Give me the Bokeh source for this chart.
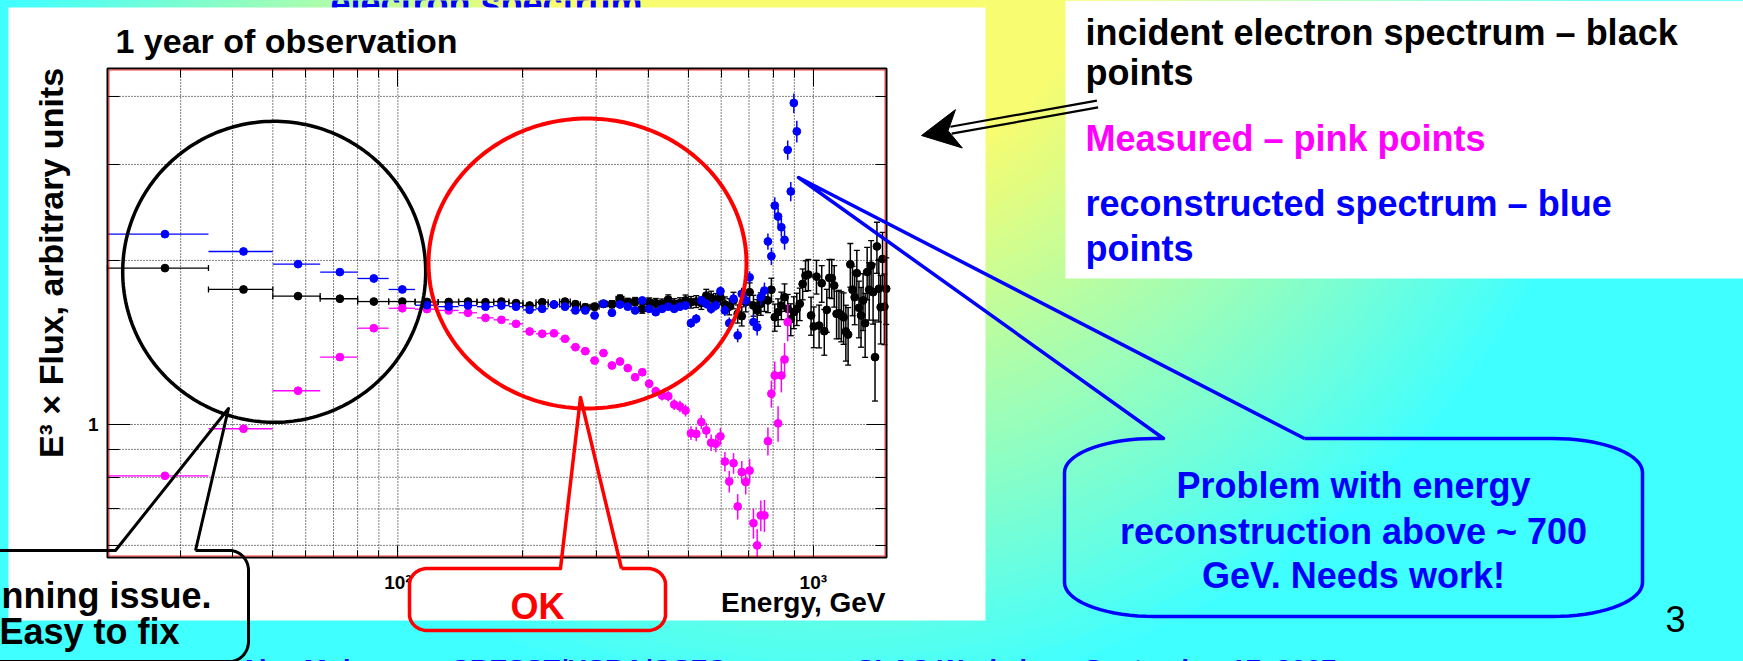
import numpy as np
from bokeh.plotting import figure
from bokeh.models import (Range1d, LogScale, LogAxis, FixedTicker,
                          CustomJSTickFormatter, Label, ColumnDataSource)
from bokeh.core.properties import value
from bokeh.embed import file_html
from bokeh.resources import INLINE

# ------------------------------------------------------------------ data
# bin centres (GeV), 15 GeV wide bins
energy = [27.5, 42.5, 57.5, 72.5, 87.5, 102.5, 117.5, 132.5, 147.5, 162.5,
          177.5, 192.5, 207.5, 222.5, 237.5, 252.5, 267.5, 282.5, 297.5, 312.5,
          327.5, 342.5, 357.5, 372.5, 387.5, 402.5, 417.5, 432.5, 447.5, 462.5,
          477.5, 492.5, 507.5, 522.5, 537.5, 552.5, 567.5, 582.5, 597.5, 612.5,
          627.5, 642.5, 657.5, 672.5, 687.5, 702.5, 717.5, 732.5, 747.5, 762.5,
          777.5, 792.5, 807.5, 822.5, 837.5, 852.5, 867.5, 882.5, 897.5, 912.5,
          927.5, 942.5, 957.5, 972.5, 987.5, 1002.5, 1017.5, 1032.5, 1047.5, 1062.5,
          1077.5, 1092.5, 1107.5, 1122.5, 1137.5, 1152.5, 1167.5, 1182.5, 1197.5, 1212.5,
          1227.5, 1242.5, 1257.5, 1272.5, 1287.5, 1302.5, 1317.5, 1332.5, 1347.5, 1362.5,
          1377.5, 1392.5, 1407.5, 1422.5, 1437.5, 1452.5, 1467.5, 1482.5, 1497.5]
bin_half_width = 7.5

# incident spectrum (black)
incident = [1.936, 1.769, 1.720, 1.701, 1.681, 1.681, 1.678, 1.678, 1.681, 1.676,
            1.681, 1.670, 1.653, 1.676, 1.660, 1.681, 1.662, 1.641, 1.645, 1.665,
            1.662, 1.701, 1.676, 1.681, 1.630, 1.676, 1.670, 1.665, 1.694, 1.665,
            1.670, 1.689, 1.676, 1.681, 1.670, 1.724, 1.708, 1.689, 1.712, 1.660,
            1.645, 1.689, 1.596, 1.580, 1.676, 1.749, 1.653, 1.619, 1.665, 1.694,
            1.689, 1.767, 1.573, 1.607, 1.653, 1.712, 1.630, 1.560, 1.607, 1.630,
            1.665, 1.811, 1.876, 1.884, 1.585, 1.513, 1.868, 1.519, 1.816, 1.483,
            1.623, 1.858, 1.855, 1.799, 1.596, 1.600, 1.585, 1.573, 1.481, 1.462,
            1.967, 1.767, 1.712, 1.895, 1.637, 1.585, 1.689, 1.534, 1.904, 1.767,
            1.957, 1.749, 1.329, 2.122, 1.774, 1.641, 2.012, 1.645, 1.774]
incident_err = [0.008, 0.008, 0.009, 0.010, 0.010, 0.011, 0.012, 0.013, 0.013, 0.014,
                0.015, 0.016, 0.017, 0.018, 0.019, 0.020, 0.021, 0.022, 0.023, 0.024,
                0.025, 0.027, 0.028, 0.029, 0.030, 0.031, 0.033, 0.034, 0.035, 0.036,
                0.038, 0.039, 0.041, 0.042, 0.044, 0.046, 0.048, 0.050, 0.052, 0.054,
                0.056, 0.059, 0.061, 0.064, 0.067, 0.070, 0.073, 0.076, 0.079, 0.082,
                0.085, 0.088, 0.090, 0.093, 0.096, 0.099, 0.102, 0.105, 0.108, 0.111,
                0.114, 0.118, 0.121, 0.124, 0.127, 0.130, 0.133, 0.137, 0.140, 0.143,
                0.147, 0.150, 0.153, 0.157, 0.160, 0.163, 0.167, 0.170, 0.174, 0.177,
                0.181, 0.184, 0.188, 0.191, 0.195, 0.199, 0.202, 0.206, 0.210, 0.213,
                0.217, 0.221, 0.225, 0.228, 0.232, 0.236, 0.240, 0.244, 0.248]

# measured spectrum (pink), first 57 bins
measured = [0.805, 0.982, 1.153, 1.329, 1.502, 1.634, 1.628, 1.619, 1.603, 1.569,
            1.556, 1.530, 1.481, 1.467, 1.470, 1.436, 1.386, 1.363, 1.310, 1.352,
            1.283, 1.305, 1.269, 1.221, 1.247, 1.188, 1.151, 1.130, 1.127, 1.088,
            1.079, 1.061, 0.964, 0.961, 1.010, 0.975, 0.926, 0.922, 0.951, 0.855,
            0.786, 0.849, 0.707, 0.818, 0.784, 0.823, 0.659, 0.600, 0.681, 0.681,
            0.932, 1.139, 1.230, 1.005, 1.230, 1.316, 1.541]
measured_err = [0.006, 0.007, 0.008, 0.009, 0.010, 0.010, 0.011, 0.011, 0.012, 0.012,
                0.013, 0.013, 0.014, 0.014, 0.015, 0.015, 0.016, 0.016, 0.017, 0.017,
                0.018, 0.019, 0.019, 0.020, 0.021, 0.021, 0.022, 0.023, 0.024, 0.025,
                0.026, 0.027, 0.028, 0.029, 0.030, 0.031, 0.032, 0.033, 0.034, 0.035,
                0.036, 0.037, 0.038, 0.039, 0.040, 0.041, 0.042, 0.043, 0.044, 0.046,
                0.055, 0.065, 0.075, 0.075, 0.085, 0.095, 0.120]

# reconstructed spectrum (blue), first 60 bins
reconstructed = [2.235, 2.077, 1.969, 1.904, 1.853, 1.769, 1.655, 1.645, 1.653, 1.645,
                 1.653, 1.645, 1.623, 1.630, 1.660, 1.645, 1.619, 1.619, 1.585, 1.665,
                 1.603, 1.660, 1.645, 1.619, 1.689, 1.630, 1.607, 1.630, 1.645, 1.630,
                 1.645, 1.653, 1.534, 1.563, 1.689, 1.665, 1.630, 1.653, 1.756, 1.619,
                 1.534, 1.701, 1.457, 1.737, 1.689, 1.862, 1.541, 1.508, 1.712, 1.761,
                 2.167, 2.036, 2.522, 2.408, 2.301, 2.182, 3.190, 2.677, 3.890, 3.450]
reconstructed_err = [0.007, 0.008, 0.009, 0.010, 0.010, 0.011, 0.011, 0.012, 0.012, 0.013,
                     0.013, 0.014, 0.014, 0.015, 0.015, 0.016, 0.016, 0.017, 0.017, 0.018,
                     0.019, 0.019, 0.020, 0.021, 0.022, 0.023, 0.024, 0.025, 0.026, 0.027,
                     0.028, 0.029, 0.030, 0.031, 0.032, 0.033, 0.034, 0.035, 0.036, 0.037,
                     0.038, 0.040, 0.042, 0.044, 0.046, 0.048, 0.050, 0.052, 0.055, 0.060,
                     0.075, 0.075, 0.090, 0.090, 0.090, 0.090, 0.130, 0.110, 0.160, 0.160]

x_ticks_major = [100, 1000]
x_ticks_minor = [30, 40, 50, 60, 70, 80, 90, 200, 300, 400, 500, 600, 700, 800, 900]
y_ticks_major = [1]
y_ticks_minor = [0.6, 0.7, 0.8, 0.9, 2, 3, 4]
x_lim = (20, 1500)
y_lim = (0.57, 4.5)

# ------------------------------------------------------------------ page layout
W, H = 1743, 661
FONT = "Liberation Sans"
BOX_L, BOX_R, BOX_T, BOX_B = 107, 886, 68, 557   # chart frame in page pixels
BLUE, PINK, RED = "#0000FF", "#FF00FF", "#FF0000"
YEL, CYA = (248, 252, 112), (64, 255, 255)

p = figure(width=W, height=H, x_range=Range1d(0, W), y_range=Range1d(H, 0),
           x_axis_type=None, y_axis_type=None, toolbar_location=None,
           output_backend="svg", min_border=0)
p.outline_line_color = None
p.background_fill_color = "#40FFFF"
p.border_fill_color = "#40FFFF"

# log scales for the chart, mapped onto the chart frame
lx0, lx1 = np.log10(x_lim)
dec_x = (BOX_R - BOX_L) / (lx1 - lx0)
ly0, ly1 = np.log10(y_lim)
dec_y = (BOX_B - BOX_T) / (ly1 - ly0)
p.extra_x_ranges = {"ex": Range1d(10 ** (lx0 - BOX_L / dec_x), 10 ** (lx1 + (W - BOX_R) / dec_x))}
p.extra_x_scales = {"ex": LogScale()}
p.extra_y_ranges = {"ey": Range1d(10 ** (ly0 - (H - BOX_B) / dec_y), 10 ** (ly1 + BOX_T / dec_y))}
p.extra_y_scales = {"ey": LogScale()}
C = dict(x_range_name="ex", y_range_name="ey")

# ---- background gradient (concentric circles)
radii = np.arange(1260, 230, -10)
tt = np.clip((radii - 300) / 520.0, 0, 1)
cols = ["#%02x%02x%02x" % tuple(int(round(a * (1 - t) + b * t)) for a, b in zip(YEL, CYA)) for t in tt]
p.circle(x=[820] * len(radii), y=[-110] * len(radii), radius=list(radii),
         fill_color=cols, line_color=None, level="image")

# slide title, mostly hidden
p.text(x=[330], y=[3], text=["electron spectrum"], text_font=value(FONT),
       text_font_size="36px", text_font_style="bold", text_color=BLUE,
       text_baseline="alphabetic", level="image")

# white panels
p.quad(left=8, right=985, top=7, bottom=620, fill_color="white", line_color=None, level="image")
p.quad(left=1065, right=W, top=0, bottom=278, fill_color="white", line_color=None, level="image")

# ---- grid
gx = x_ticks_minor + x_ticks_major
p.segment(x0=gx, y0=[y_lim[0]] * len(gx), x1=gx, y1=[y_lim[1]] * len(gx),
          line_color="black", line_width=1, line_dash="1 2", level="underlay", **C)
gy = y_ticks_minor + y_ticks_major
p.segment(x0=[x_lim[0]] * len(gy), y0=gy, x1=[x_lim[1]] * len(gy), y1=gy,
          line_color="black", line_width=1, line_dash="1 2", level="underlay", **C)


# ---- data series
def series(xv, yv, ev, color, caps):
    n = len(yv)
    xv = xv[:n]
    src = ColumnDataSource(dict(
        x=xv, y=yv,
        lo=[max(v - e, y_lim[0]) for v, e in zip(yv, ev)],
        hi=[min(v + e, y_lim[1]) for v, e in zip(yv, ev)],
        xl=[v - bin_half_width for v in xv],
        xr=[v + bin_half_width for v in xv]))
    p.segment(x0="xl", y0="y", x1="xr", y1="y", source=src, line_color=color, line_width=1.3, **C)
    p.segment(x0="x", y0="lo", x1="x", y1="hi", source=src, line_color=color, line_width=1.5, **C)
    if caps:
        for col in ("lo", "hi"):
            p.scatter(x="x", y=col, source=src, marker="dash", size=6, line_color=color, line_width=1.3, **C)
        for col in ("xl", "xr"):
            p.scatter(x=col, y="y", source=src, marker="dash", angle=np.pi / 2, size=6,
                      line_color=color, line_width=1.3, **C)
    p.scatter(x="x", y="y", source=src, marker="circle", size=7.8,
              fill_color=color, line_color=color, **C)


series(energy, incident, incident_err, "black", True)
series(energy, measured, measured_err, PINK, False)
series(energy, reconstructed, reconstructed_err, BLUE, False)

# ---- frame
p.quad(left=BOX_L, right=BOX_R, top=BOX_T, bottom=BOX_B, fill_color=None,
       line_color="black", line_width=2)
p.quad(left=BOX_L + 1.5, right=BOX_R - 1.5, top=BOX_T + 1.5, bottom=BOX_B - 1.5,
       fill_color=None, line_color=RED, line_width=0.8)

# ---- axes (ticks pointing inward)
xfmt = CustomJSTickFormatter(code="return tick == 100 ? '10\u00b2' : (tick == 1000 ? '10\u00b3' : '');")
blank = CustomJSTickFormatter(code="return '';")
yfmt = CustomJSTickFormatter(code="return tick == 1 ? '1' : '';")
common = dict(axis_line_color=None, major_tick_out=0, minor_tick_out=0,
              major_tick_line_color="black", minor_tick_line_color="black",
              major_label_text_font=FONT, major_label_text_font_style="bold",
              major_label_text_font_size="19px", major_label_text_color="black")

ax = LogAxis(x_range_name="ex", fixed_location=BOX_B, bounds=x_lim,
             ticker=FixedTicker(ticks=x_ticks_major, minor_ticks=x_ticks_minor),
             formatter=xfmt, major_tick_in=12, minor_tick_in=7, major_label_standoff=14, **common)
p.add_layout(ax, "below")
ax2 = LogAxis(x_range_name="ex", fixed_location=BOX_T, bounds=x_lim,
              ticker=FixedTicker(ticks=x_ticks_major, minor_ticks=x_ticks_minor),
              formatter=blank, major_tick_in=18, minor_tick_in=9, **common)
p.add_layout(ax2, "above")
ay = LogAxis(y_range_name="ey", fixed_location=BOX_L, bounds=y_lim,
             ticker=FixedTicker(ticks=y_ticks_major, minor_ticks=y_ticks_minor),
             formatter=yfmt, major_tick_in=23, minor_tick_in=12, major_label_standoff=9, **common)
p.add_layout(ay, "left")
ay2 = LogAxis(y_range_name="ey", fixed_location=BOX_R, bounds=y_lim,
              ticker=FixedTicker(ticks=y_ticks_major, minor_ticks=y_ticks_minor),
              formatter=blank, major_tick_in=20, minor_tick_in=11, **common)
p.add_layout(ay2, "right")

# ---- decorations
BASE_SHIFT = 0.28   # renderer draws 'alphabetic' text ~0.28 em low; compensate


def label(x, y, text, size, color="black", bold=True, align="left", angle=0, dx=0.0):
    p.add_layout(Label(x=x + dx, y=y - (BASE_SHIFT * size if angle == 0 else 0), text=text,
                       text_font=FONT, text_font_size=f"{size}px",
                       text_font_style="bold" if bold else "normal", text_color=color,
                       text_align=align, text_baseline="alphabetic",
                       angle=angle, angle_units="deg"))


def ellipse_pts(cx, cy, rx, ry, n=240):
    a = np.linspace(0, 2 * np.pi, n)
    return list(cx + rx * np.cos(a)), list(cy + ry * np.sin(a))


def callout(x0, y0, x1, y1, rx, ry, base_l, base_r, tip, n=18):
    xs, ys = [base_r], [y0]
    for cx, cy, a0, a1 in [(x1 - rx, y0 + ry, -90, 0), (x1 - rx, y1 - ry, 0, 90),
                           (x0 + rx, y1 - ry, 90, 180), (x0 + rx, y0 + ry, 180, 270)]:
        a = np.radians(np.linspace(a0, a1, n))
        xs += list(cx + rx * np.cos(a))
        ys += list(cy + ry * np.sin(a))
    xs += [base_l, tip[0], base_r]
    ys += [y0, tip[1], y0]
    return xs, ys


ex, ey = ellipse_pts(273.7, 271.3, 151.5, 150.5)
p.line(ex, ey, line_color="black", line_width=3.5, level="overlay")
ex, ey = ellipse_pts(587, 263, 159, 145)
p.line(ex, ey, line_color=RED, line_width=4, level="overlay")

xs, ys = callout(-120, 550, 248, 661, 19, 20, 115, 195, (228, 408))
p.line(xs, ys, line_color="black", line_width=3, line_join="round", level="overlay")
xs, ys = callout(409, 568, 665, 630, 18, 16, 560, 621, (580, 397))
p.line(xs, ys, line_color=RED, line_width=3.5, line_join="round", level="overlay")
xs, ys = callout(1064, 438, 1642, 616, 90, 34, 1163, 1304, (798, 177))
p.line(xs, ys, line_color=BLUE, line_width=3.5, line_join="round", level="overlay")

# double-line arrow
tip = np.array([921.0, 135.0])
tail = np.array([1097.0, 103.5])
u = (tip - tail) / np.linalg.norm(tip - tail)
nrm = np.array([-u[1], u[0]])
back = tip - 38 * u
notch = tip - 27 * u
head = [tip, back + 19.5 * nrm, notch, back - 19.5 * nrm]
p.patch([q[0] for q in head], [q[1] for q in head], fill_color="black", line_color="black",
        line_width=1, level="overlay")
for s in (-3.5, 3.5):
    a = tip - 30 * u + s * nrm
    b = tail + s * nrm
    p.line([a[0], b[0]], [a[1], b[1]], line_color="black", line_width=2.2, level="overlay")

# chart texts
label(115, 50, "1 year of observation", 34)
label(50, 262.5, "E\u00b3 \u00d7 Flux, arbitrary units", 34, align="center", angle=90)
label(885, 610, "Energy, GeV", 28, align="right")

# slide texts
label(1085, 42, "incident electron spectrum \u2013 black", 36)
label(1085, 82, "points", 36)
label(1085, 148, "Measured \u2013 pink points", 36, color=PINK)
label(1085, 213, "reconstructed spectrum \u2013 blue", 36, color=BLUE)
label(1085, 258, "points", 36, color=BLUE)

label(1353, 495, "Problem with energy", 36, color=BLUE, align="center")
label(1353, 541, "reconstruction above ~ 700", 36, color=BLUE, align="center")
label(1353, 585, "GeV. Needs work!", 36, color=BLUE, align="center")

label(88, 605, "Binning issue.", 36, align="center")
label(89, 641, "Easy to fix", 36, align="center")
label(537, 616, "OK", 36, color=RED, align="center")
label(1675, 629, "3", 36, bold=False, align="center")

# footer (cut by the window bottom)
label(239, 677, "Alex Moiseev", 27, color=BLUE)
label(450, 677, "CRESST/USRA/GSFC", 27, color=BLUE)
label(856, 677, "SLAC Workshop, September 17, 2007", 27, color=BLUE)

open("out.html", "w").write(file_html(p, INLINE))
